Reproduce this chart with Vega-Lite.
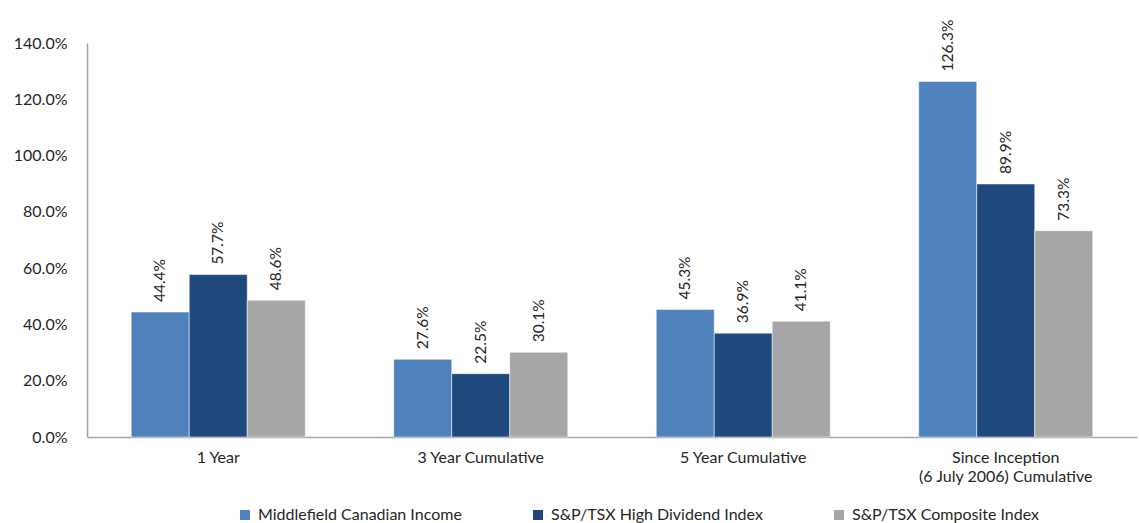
{
  "$schema": "https://vega.github.io/schema/vega-lite/v6.json",
  "autosize": {"type": "none"},
  "width": 1050,
  "height": 394,
  "padding": {"left": 87, "top": 43, "right": 2, "bottom": 86},
  "background": "white",
  "config": {
    "font": "Lato",
    "view": {"stroke": null}
  },
  "data": {
    "values": [
      {"period": "1 Year", "series": "Middlefield Canadian Income", "value": 0.444},
      {"period": "1 Year", "series": "S&P/TSX High Dividend Index", "value": 0.577},
      {"period": "1 Year", "series": "S&P/TSX Composite Index", "value": 0.486},
      {"period": "3 Year Cumulative", "series": "Middlefield Canadian Income", "value": 0.276},
      {"period": "3 Year Cumulative", "series": "S&P/TSX High Dividend Index", "value": 0.225},
      {"period": "3 Year Cumulative", "series": "S&P/TSX Composite Index", "value": 0.301},
      {"period": "5 Year Cumulative", "series": "Middlefield Canadian Income", "value": 0.453},
      {"period": "5 Year Cumulative", "series": "S&P/TSX High Dividend Index", "value": 0.369},
      {"period": "5 Year Cumulative", "series": "S&P/TSX Composite Index", "value": 0.411},
      {"period": "Since Inception (6 July 2006) Cumulative", "series": "Middlefield Canadian Income", "value": 1.263},
      {"period": "Since Inception (6 July 2006) Cumulative", "series": "S&P/TSX High Dividend Index", "value": 0.899},
      {"period": "Since Inception (6 July 2006) Cumulative", "series": "S&P/TSX Composite Index", "value": 0.733}
    ]
  },
  "encoding": {
    "x": {
      "field": "period",
      "type": "nominal",
      "sort": null,
      "scale": {"paddingInner": 0.337, "paddingOuter": 0.1685},
      "axis": {
        "title": null,
        "labelAngle": 0,
        "ticks": false,
        "domainColor": "#A6A6A6",
        "domainWidth": 1.5,
        "labelFontSize": 16,
        "labelColor": "#262626",
        "labelPadding": 12,
        "labelLimit": 0,
        "labelLineHeight": 19,
        "labelExpr": "datum.label == 'Since Inception (6 July 2006) Cumulative' ? ['Since Inception', '(6 July 2006) Cumulative'] : datum.label"
      }
    },
    "xOffset": {"field": "series", "type": "nominal", "sort": ["Middlefield Canadian Income", "S&P/TSX High Dividend Index", "S&P/TSX Composite Index"]},
    "y": {
      "field": "value",
      "type": "quantitative",
      "scale": {"domain": [0, 1.4]},
      "axis": {
        "title": null,
        "format": ".1%",
        "values": [0, 0.2, 0.4, 0.6, 0.8, 1.0, 1.2, 1.4],
        "grid": false,
        "ticks": false,
        "domainColor": "#A6A6A6",
        "domainWidth": 1.5,
        "labelFontSize": 16,
        "labelColor": "#262626",
        "labelPadding": 20
      }
    }
  },
  "layer": [
    {
      "mark": {"type": "bar", "stroke": "white", "strokeWidth": 0.5},
      "encoding": {
        "color": {
          "field": "series",
          "type": "nominal",
          "sort": ["Middlefield Canadian Income", "S&P/TSX High Dividend Index", "S&P/TSX Composite Index"],
          "scale": {
            "domain": ["Middlefield Canadian Income", "S&P/TSX High Dividend Index", "S&P/TSX Composite Index"],
            "range": ["#4F81BD", "#1F497D", "#A6A6A6"]
          },
          "legend": {
            "title": null,
            "orient": "none",
            "direction": "horizontal",
            "legendX": 150,
            "legendY": 464,
            "symbolType": "square",
            "symbolSize": 100,
            "symbolStrokeWidth": 0,
            "labelFontSize": 16,
            "labelLimit": 0,
            "labelColor": "#262626",
            "columnPadding": 68,
            "labelOffset": 5
          }
        }
      }
    },
    {
      "mark": {"type": "text", "angle": 270, "align": "left", "baseline": "middle", "dx": 10, "fontSize": 15.5, "color": "#262626"},
      "encoding": {
        "text": {"field": "value", "type": "quantitative", "format": ".1%"}
      }
    }
  ]
}
